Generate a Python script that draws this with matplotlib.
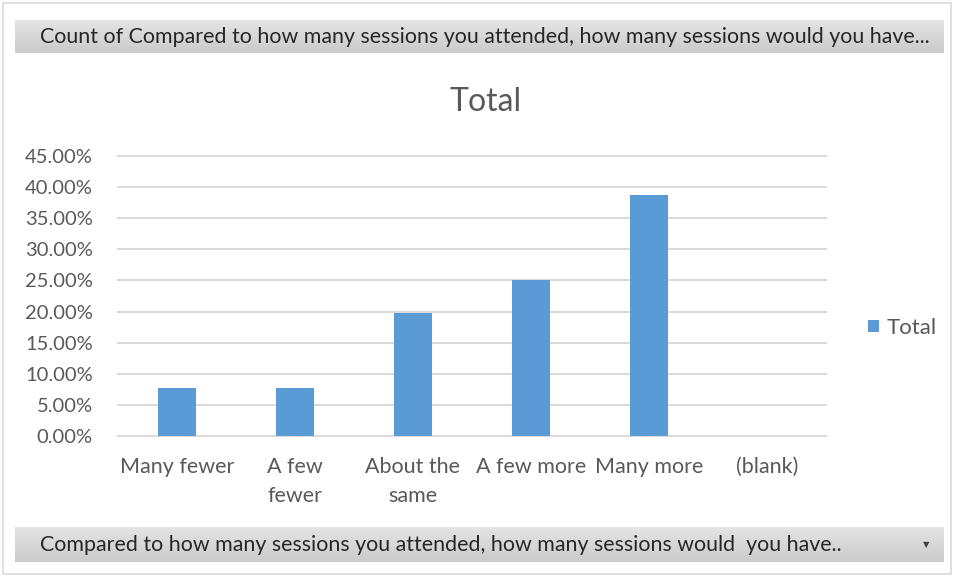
import numpy as np
import matplotlib
matplotlib.use("Agg")
import matplotlib.pyplot as plt
from matplotlib.ticker import FuncFormatter
from matplotlib.patches import Rectangle

categories = ["Many fewer", "A few\nfewer", "About the\nsame", "A few more", "Many more", "(blank)"]
values = [7.7, 7.7, 19.8, 25.1, 38.8, 0.0]   # percent
yticks = [0, 5, 10, 15, 20, 25, 30, 35, 40, 45]

title = "Total"
legend_label = "Total"
top_field = "Count of Compared to how many sessions you attended, how many sessions would you have..."
bottom_field = "Compared to how many sessions you attended, how many sessions would  you have.."

W, H = 954, 577
plt.rcParams["font.family"] = ["Lato", "DejaVu Sans"]
txt = "#595959"
bar_c = "#5B9BD5"
grid_c = "#D9D9D9"

fig = plt.figure(figsize=(W / 100, H / 100), dpi=100)
fig.patch.set_facecolor("white")


def px_axes(x0, y0, x1, y1):
    # pixel box (top-left origin) -> figure axes
    return fig.add_axes([x0 / W, 1 - y1 / H, (x1 - x0) / W, (y1 - y0) / H])


# outer chart frame
fig.add_artist(Rectangle((3 / W, 3 / H), 1 - 6 / W, 1 - 6 / H, transform=fig.transFigure,
                         fill=False, edgecolor="#DADADA", lw=1.2))

# gray field buttons
grad = np.linspace(0, 1, 50).reshape(-1, 1)
cm = matplotlib.colors.LinearSegmentedColormap.from_list("g", ["#E4E4E4", "#CBCBCB"])
for (y0, y1, label, arrow) in [(20, 53, top_field, False), (527, 562, bottom_field, True)]:
    bax = px_axes(15, y0, 944, y1)
    bax.imshow(grad, aspect="auto", cmap=cm, extent=[0, 1, 0, 1], origin="upper")
    bax.set_xlim(0, 1)
    bax.set_ylim(0, 1)
    bax.axis("off")
    bax.text(25 / 929, 0.48, label, ha="left", va="center", fontsize=15.4, color="#262626")
    if arrow:
        bax.text(1 - 18 / 929, 0.5, "\u25BC", ha="center", va="center", fontsize=6,
                 color="#404040", family="DejaVu Sans")

# main chart
ax = px_axes(118, 156, 826, 436)
x = np.arange(len(categories))
ax.bar(x, values, width=0.32, color=bar_c, zorder=3, label=legend_label)
ax.set_xlim(-0.5, len(categories) - 0.5)
ax.set_ylim(0, 45)
ax.set_yticks(yticks)
ax.yaxis.set_major_formatter(FuncFormatter(lambda v, p: f"{v:.2f}%"))
ax.yaxis.grid(True, color=grid_c, lw=1.4, zorder=0)
ax.set_axisbelow(True)
for s in ax.spines.values():
    s.set_visible(False)
ax.tick_params(axis="y", length=0, pad=18, labelsize=14.5, labelcolor=txt)
ax.tick_params(axis="x", length=0, pad=15, labelsize=15.5, labelcolor=txt)
ax.set_xticks(x)
ax.set_xticklabels(categories, linespacing=1.55, va="top")
for t in ax.get_ygridlines():
    t.set_clip_on(False)

fig.text(486 / W, 1 - 102 / H, title, ha="center", va="center", fontsize=23, color=txt)

leg = ax.legend(loc="center left", bbox_to_anchor=((859 - 118) / 708, (436 - 328) / 280),
                frameon=False, handlelength=0.5, handleheight=0.5, handletextpad=0.35,
                fontsize=16, borderaxespad=0)
for t in leg.get_texts():
    t.set_color(txt)

fig.savefig("out.png", dpi=100)
